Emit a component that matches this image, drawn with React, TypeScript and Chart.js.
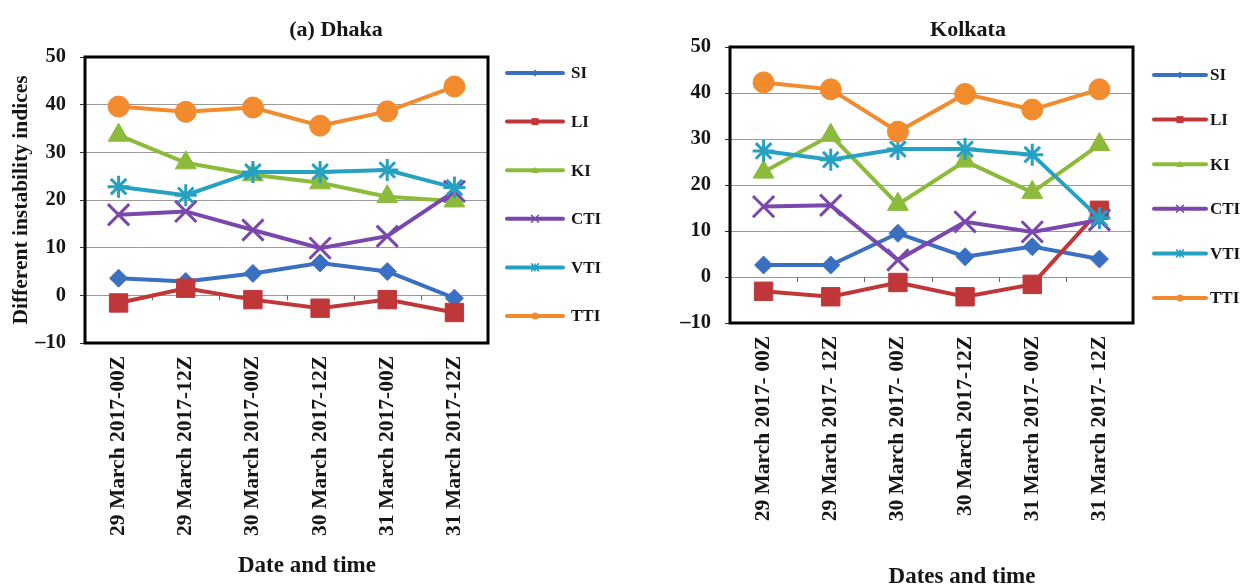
import { useEffect, useRef } from 'react';
import { Chart, registerables } from 'chart.js';

Chart.register(...registerables);

// ---- data ----
const seriesNames = ['SI', 'LI', 'KI', 'CTI', 'VTI', 'TTI'];
const seriesColors = ['#3a70c2', '#c0373a', '#8cbb3c', '#7a48ad', '#27a1c2', '#f28a2e'];

const dhakaLabels = [
  '29 March 2017-00Z',
  '29 March 2017-12Z',
  '30 March 2017-00Z',
  '30 March 2017-12Z',
  '31 March 2017-00Z',
  '31 March 2017-12Z',
];
const kolkataLabels = [
  '29 March 2017- 00Z',
  '29 March 2017- 12Z',
  '30 March 2017- 00Z',
  '30 March 2017-12Z',
  '31 March 2017- 00Z',
  '31 March 2017- 12Z',
];

const dhakaSI = [3.6, 2.9, 4.6, 6.8, 5.0, -0.6];
const dhakaLI = [-1.6, 1.5, -0.9, -2.7, -0.9, -3.6];
const dhakaKI = [33.6, 27.8, 25.3, 23.6, 20.7, 19.8];
const dhakaCTI = [16.9, 17.6, 13.7, 9.9, 12.4, 21.8];
const dhakaVTI = [22.8, 21.0, 25.9, 25.9, 26.3, 22.6];
const dhakaTTI = [39.6, 38.5, 39.4, 35.6, 38.6, 43.8];

const kolkataSI = [2.6, 2.6, 9.5, 4.4, 6.6, 3.9];
const kolkataLI = [-3.1, -4.3, -1.2, -4.3, -1.6, 14.5];
const kolkataKI = [22.8, 30.8, 15.8, 25.2, 18.4, 28.8];
const kolkataCTI = [15.3, 15.6, 3.7, 12.0, 9.8, 12.4];
const kolkataVTI = [27.4, 25.5, 27.8, 27.8, 26.6, 12.8];
const kolkataTTI = [42.3, 40.8, 31.6, 39.8, 36.4, 40.8];

const yMin = -10;
const yMax = 50;
const yStep = 10;

// ---- styling ----
const FONT = "'Liberation Serif', 'Times New Roman', serif";
const TEXT = '#161616';

const pointStyles = ['rectRot', 'rect', 'triangle', 'crossRot', 'star', 'circle'];
const pointRadii = [9, 13, 12, 15, 11, 10.5];
const pointBorders = [1, 1, 1, 3, 3, 1];

type Decor = {
  title: string;
  titleX: number;
  titleY: number;
  xTitle: string;
  xTitleX: number;
  xTitleY: number;
  legendLineX0: number;
  legendLineX1: number;
  legendTextX: number;
  legendTop: number;
  legendStep: number;
};

function drawLegendMarker(ctx: CanvasRenderingContext2D, i: number, x: number, y: number, color: string) {
  ctx.save();
  ctx.fillStyle = color;
  ctx.strokeStyle = color;
  ctx.lineWidth = 1.5;
  const r = 3.5;
  ctx.beginPath();
  if (i === 0) {
    ctx.moveTo(x, y - r);
    ctx.lineTo(x + r, y);
    ctx.lineTo(x, y + r);
    ctx.lineTo(x - r, y);
    ctx.closePath();
    ctx.fill();
  } else if (i === 1) {
    ctx.rect(x - r, y - r, 2 * r, 2 * r);
    ctx.fill();
  } else if (i === 2) {
    ctx.moveTo(x, y - r);
    ctx.lineTo(x + r, y + r * 0.8);
    ctx.lineTo(x - r, y + r * 0.8);
    ctx.closePath();
    ctx.fill();
  } else if (i === 3) {
    ctx.moveTo(x - r, y - r);
    ctx.lineTo(x + r, y + r);
    ctx.moveTo(x + r, y - r);
    ctx.lineTo(x - r, y + r);
    ctx.stroke();
  } else if (i === 4) {
    ctx.moveTo(x - r, y - r);
    ctx.lineTo(x + r, y + r);
    ctx.moveTo(x + r, y - r);
    ctx.lineTo(x - r, y + r);
    ctx.moveTo(x, y - r);
    ctx.lineTo(x, y + r);
    ctx.stroke();
  } else {
    ctx.arc(x, y, r, 0, Math.PI * 2);
    ctx.fill();
  }
  ctx.restore();
}

function makeDecorPlugin(d: Decor) {
  return {
    id: 'panelDecor',
    beforeDatasetsDraw(chart: any) {
      // small category tick marks hanging from the zero line
      const { ctx, chartArea, scales } = chart;
      const y0 = scales.y.getPixelForValue(0);
      const n = chart.data.labels.length;
      const w = (chartArea.right - chartArea.left) / n;
      ctx.save();
      ctx.strokeStyle = '#666';
      ctx.lineWidth = 1;
      ctx.beginPath();
      for (let k = 1; k < n; k++) {
        const x = Math.round(chartArea.left + k * w) + 0.5;
        ctx.moveTo(x, y0);
        ctx.lineTo(x, y0 + 5);
      }
      ctx.stroke();
      ctx.restore();
    },
    afterDraw(chart: any) {
      const { ctx, chartArea } = chart;
      ctx.save();
      // plot frame
      ctx.strokeStyle = '#000';
      ctx.lineWidth = 3;
      ctx.strokeRect(chartArea.left, chartArea.top, chartArea.right - chartArea.left, chartArea.bottom - chartArea.top);

      // titles
      ctx.fillStyle = TEXT;
      ctx.textAlign = 'center';
      ctx.textBaseline = 'middle';
      ctx.font = `bold 22px ${FONT}`;
      ctx.fillText(d.title, d.titleX, d.titleY);
      ctx.font = `bold 23px ${FONT}`;
      ctx.fillText(d.xTitle, d.xTitleX, d.xTitleY);

      // legend
      chart.data.datasets.forEach((ds: any, i: number) => {
        const y = d.legendTop + i * d.legendStep;
        ctx.strokeStyle = ds.borderColor;
        ctx.lineWidth = 4;
        ctx.lineCap = 'round';
        ctx.beginPath();
        ctx.moveTo(d.legendLineX0, y);
        ctx.lineTo(d.legendLineX1, y);
        ctx.stroke();
        drawLegendMarker(ctx, i, (d.legendLineX0 + d.legendLineX1) / 2, y, ds.borderColor);
        ctx.fillStyle = TEXT;
        ctx.font = `bold 17px ${FONT}`;
        ctx.textAlign = 'left';
        ctx.textBaseline = 'middle';
        ctx.fillText(ds.label, d.legendTextX, y + 1);
      });
      ctx.restore();
    },
  };
}

function buildDatasets(values: number[][]) {
  return values.map((data, i) => ({
    label: seriesNames[i],
    data,
    borderColor: seriesColors[i],
    backgroundColor: seriesColors[i],
    borderWidth: 4,
    tension: 0,
    pointStyle: pointStyles[i],
    pointRadius: pointRadii[i],
    pointHoverRadius: pointRadii[i],
    pointBorderWidth: pointBorders[i],
    pointBackgroundColor: seriesColors[i],
    pointBorderColor: seriesColors[i],
    order: seriesNames.length - 1 - i,
    clip: false as any,
  }));
}

type PanelProps = {
  left: number;
  width: number;
  labels: string[];
  values: number[][];
  yTitle: string | null;
  padding: { left: number; right: number; top: number; bottom: number };
  decor: Decor;
};

function Panel({ left, width, labels, values, yTitle, padding, decor }: PanelProps) {
  const ref = useRef<HTMLCanvasElement | null>(null);

  useEffect(() => {
    if (!ref.current) return;
    const chart = new Chart(ref.current, {
      type: 'line',
      data: { labels, datasets: buildDatasets(values) as any },
      options: {
        responsive: false,
        animation: false,
        devicePixelRatio: 1,
        layout: { padding },
        plugins: {
          legend: { display: false },
          tooltip: { enabled: false },
          title: { display: false },
        },
        scales: {
          x: {
            offset: true,
            grid: { display: false, drawTicks: false },
            border: { display: false },
            ticks: {
              autoSkip: false,
              minRotation: 90,
              maxRotation: 90,
              padding: 13,
              color: TEXT,
              font: { family: FONT, size: 21.5, weight: 'bold' },
            },
            afterFit: (s: any) => {
              s.height = 200;
              s.paddingLeft = 0;
              s.paddingRight = 0;
            },
          },
          y: {
            min: yMin,
            max: yMax,
            ticks: {
              stepSize: yStep,
              padding: 14,
              color: TEXT,
              font: { family: FONT, size: 20.5, weight: 'bold' },
              callback: (v: any) => (Number(v) < 0 ? '\u2013' + Math.abs(Number(v)) : String(v)),
            },
            grid: {
              color: '#9a9a9a',
              lineWidth: 1,
              drawTicks: true,
              tickLength: 5,
              tickColor: '#333',
            },
            border: { display: false },
            title: {
              display: !!yTitle,
              text: yTitle || '',
              color: TEXT,
              font: { family: FONT, size: 21.5, weight: 'bold' },
              padding: { top: 1, bottom: 0 },
            },
            afterFit: (s: any) => {
              s.width = 77;
              s.paddingTop = 0;
              s.paddingBottom = 0;
            },
          },
        },
      },
      plugins: [makeDecorPlugin(decor)],
    });
    return () => chart.destroy();
  }, []);

  return (
    <canvas
      ref={ref}
      width={width}
      height={585}
      style={{ position: 'absolute', left, top: 0, width, height: 585 }}
    />
  );
}

export default function App() {
  return (
    <div
      style={{
        position: 'fixed',
        left: 0,
        top: 0,
        width: 1243,
        height: 585,
        background: '#ffffff',
        overflow: 'hidden',
      }}
    >
      <Panel
        left={0}
        width={620}
        labels={dhakaLabels}
        values={[dhakaSI, dhakaLI, dhakaKI, dhakaCTI, dhakaVTI, dhakaTTI]}
        yTitle="Different instability indices"
        padding={{ left: 8, right: 132, top: 57, bottom: 42 }}
        decor={{
          title: '(a) Dhaka',
          titleX: 336,
          titleY: 30,
          xTitle: 'Date and time',
          xTitleX: 307,
          xTitleY: 566,
          legendLineX0: 507,
          legendLineX1: 563,
          legendTextX: 571,
          legendTop: 73,
          legendStep: 48.6,
        }}
      />
      <Panel
        left={620}
        width={623}
        labels={kolkataLabels}
        values={[kolkataSI, kolkataLI, kolkataKI, kolkataCTI, kolkataVTI, kolkataTTI]}
        yTitle={null}
        padding={{ left: 33, right: 110, top: 47, bottom: 62 }}
        decor={{
          title: 'Kolkata',
          titleX: 348,
          titleY: 30,
          xTitle: 'Dates and time',
          xTitleX: 342,
          xTitleY: 577,
          legendLineX0: 534,
          legendLineX1: 586,
          legendTextX: 590,
          legendTop: 75,
          legendStep: 44.6,
        }}
      />
    </div>
  );
}
